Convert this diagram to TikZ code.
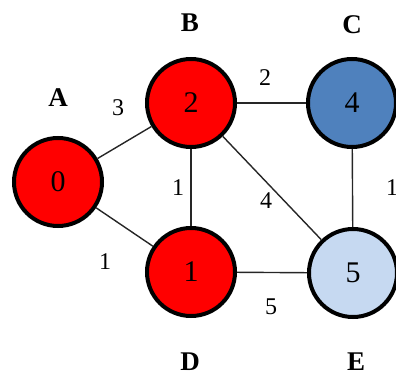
\documentclass[tikz,border=0pt]{standalone}
\usepackage{fontspec}
\setmainfont{Liberation Serif}
\usepackage{xcolor}
\usetikzlibrary{positioning}

\definecolor{vred}{RGB}{255,0,0}
\definecolor{vblue}{RGB}{79,129,189}
\definecolor{vpale}{RGB}{198,217,241}

\begin{document}
\begin{tikzpicture}[x=1pt,y=-1pt,
    vertex/.style={circle, draw=black, line width=4pt, minimum size=88pt, inner sep=0pt, font=\fontsize{30}{33}\selectfont},
    tag/.style={font=\fontsize{27}{30}\selectfont\bfseries},
    weight/.style={font=\fontsize{24}{27}\selectfont},
    edge/.style={draw=black!85, line width=1.4pt}]
            \useasboundingbox (0,0) rectangle (396,374);

            \node[vertex, fill=vred] (A) at (58,182) {0};
            \node[vertex, fill=vred] (B) at (191,103) {2};
            \node[vertex, fill=vblue] (C) at (352,103) {4};
            \node[vertex, fill=vred] (D) at (191,272) {1};
            \node[vertex, fill=vpale] (E) at (353,273) {5};

            \node[tag] (tA) at (58,98) {A};
            \node[tag] (tB) at (190,23) {B};
            \node[tag] (tC) at (352,25) {C};
            \node[tag] (tD) at (190,362) {D};
            \node[tag] (tE) at (356,362) {E};

            \draw[edge] (A) -- (B);
            \draw[edge] (A) -- (D);
            \draw[edge] (B) -- (C);
            \draw[edge] (B) -- (D);
            \draw[edge] (B) -- (E);
            \draw[edge] (C) -- (E);
            \draw[edge] (D) -- (E);

            \node[weight] (wAB) at (118,108) {3};
            \node[weight] (wBC) at (265,78) {2};
            \node[weight] (wBD) at (178,188) {1};
            \node[weight] (wBE) at (266,201) {4};
            \node[weight] (wCE) at (392,188) {1};
            \node[weight] (wAD) at (105,262) {1};
            \node[weight] (wDE) at (271,307) {5};
        \end{tikzpicture}
\end{document}
